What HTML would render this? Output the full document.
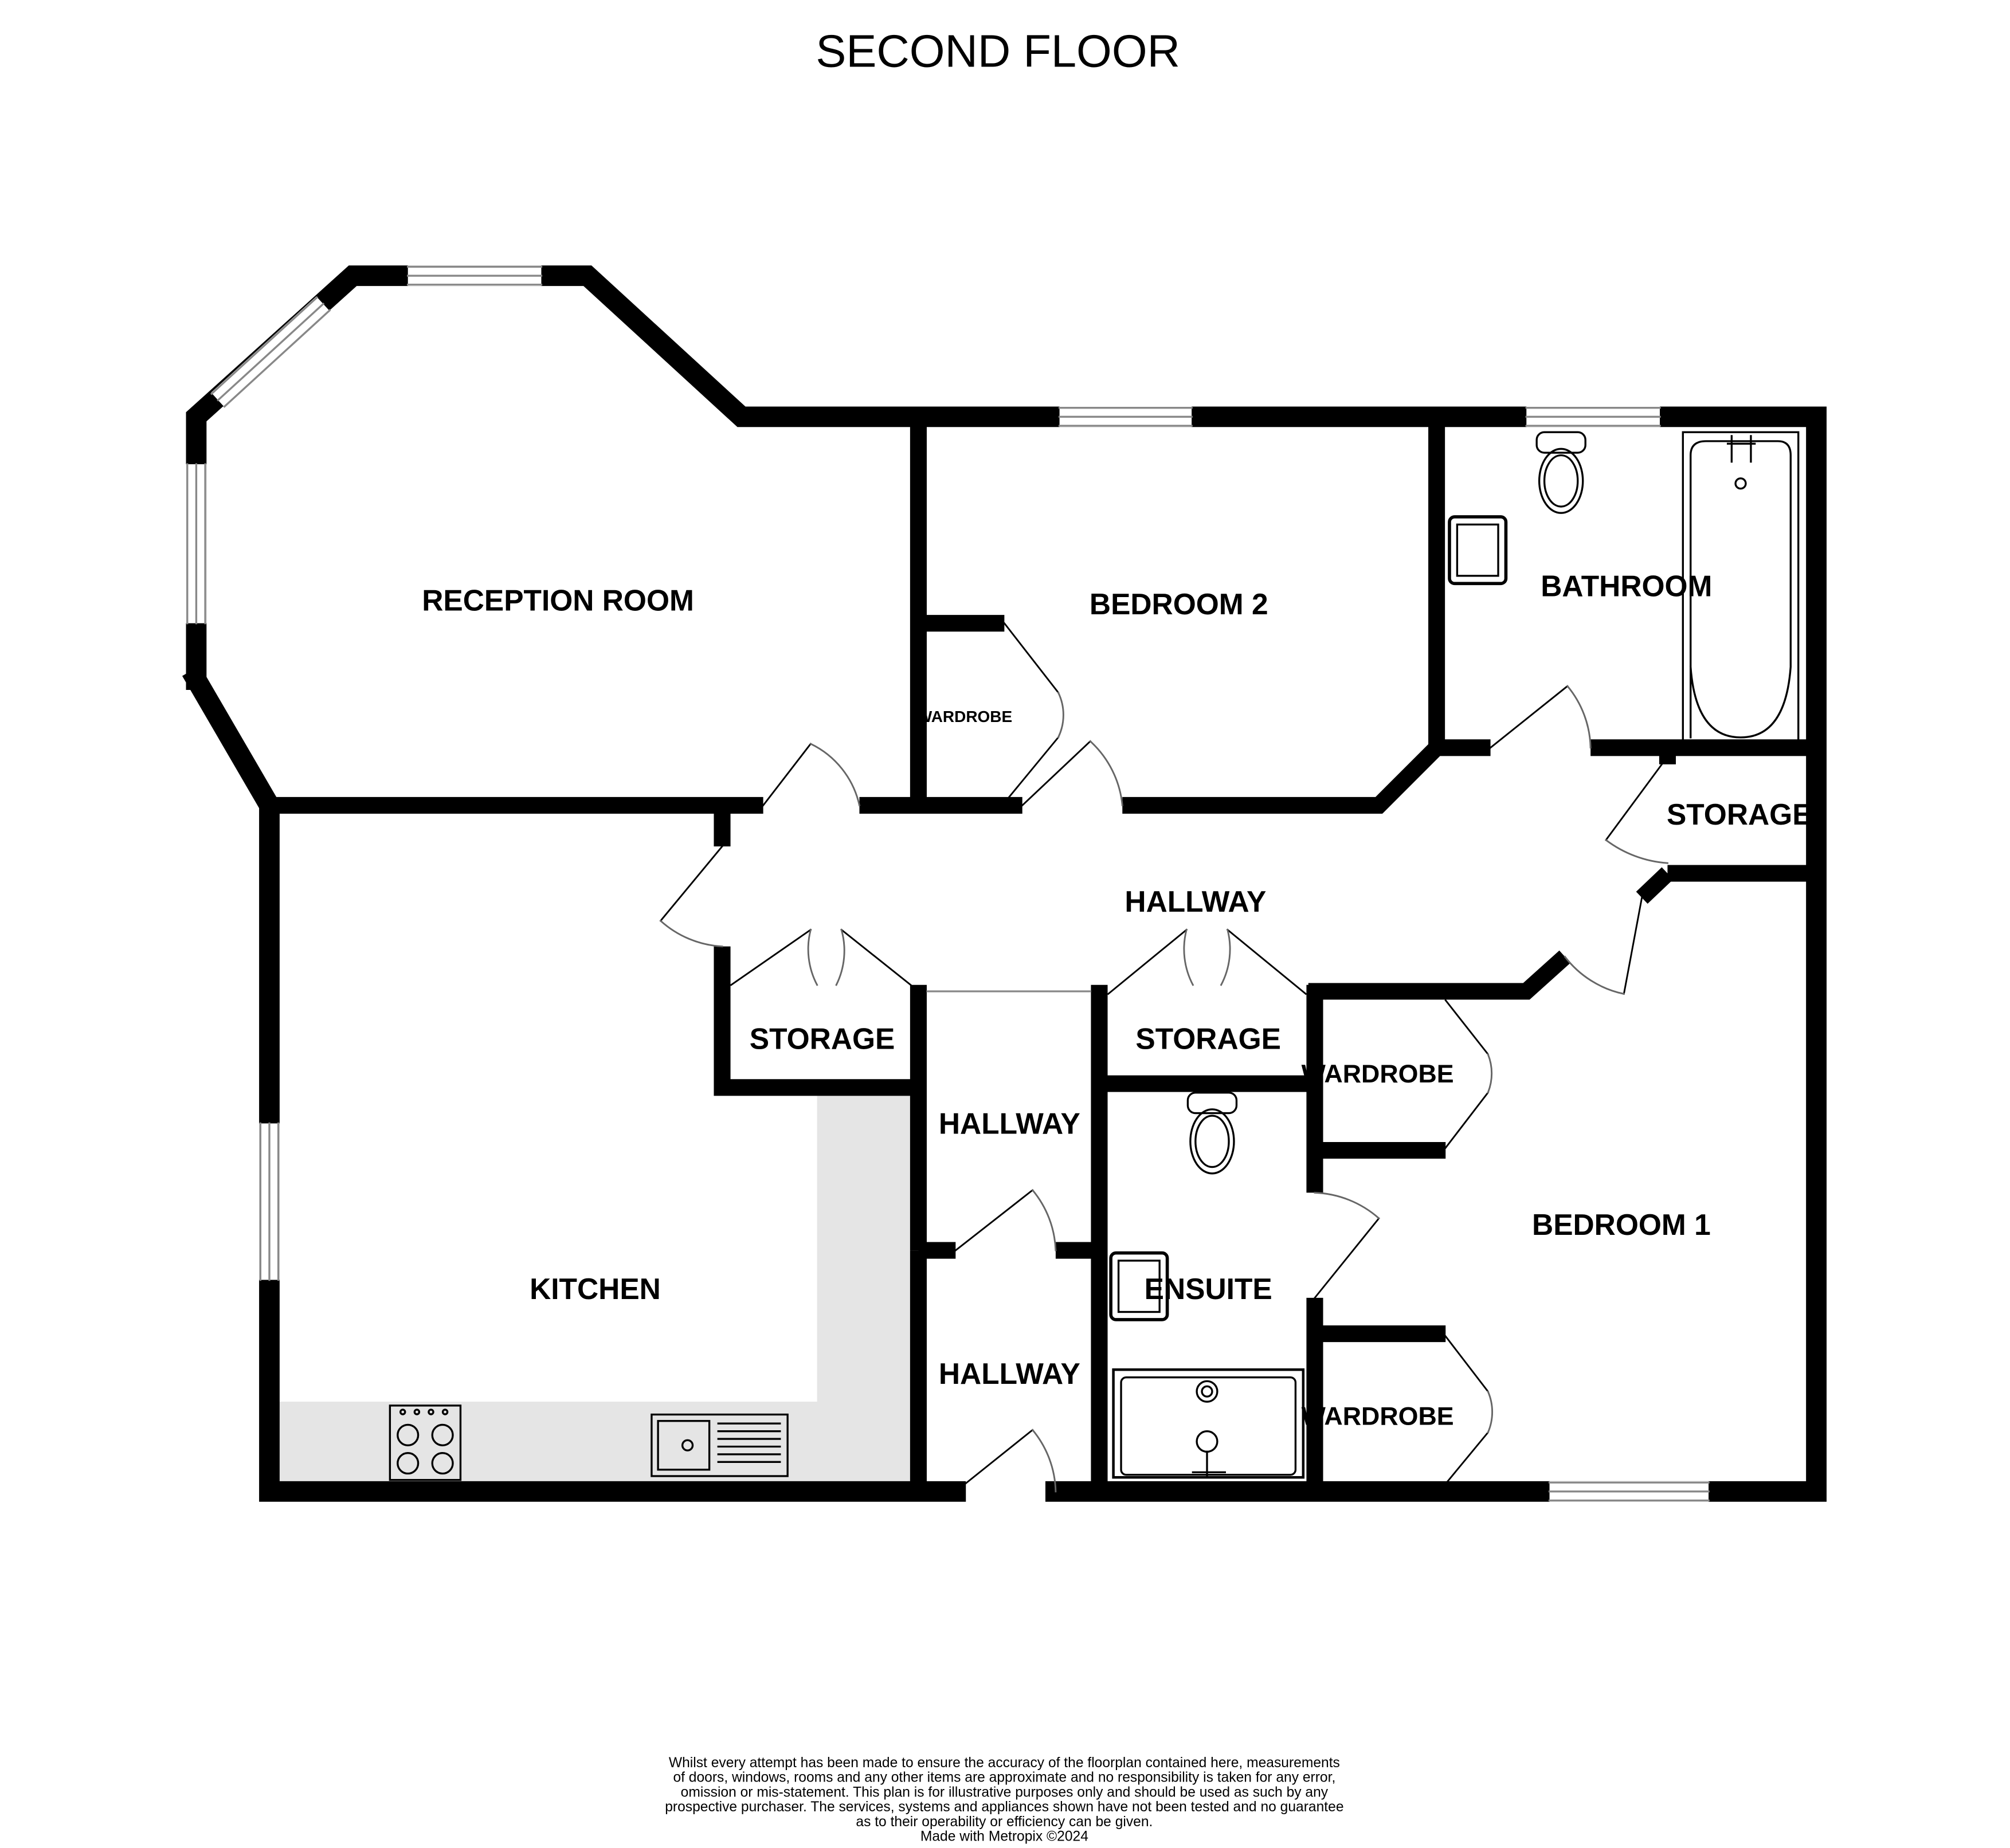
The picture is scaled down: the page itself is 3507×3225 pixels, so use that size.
<!DOCTYPE html>
<html><head><meta charset="utf-8"><style>
html,body{margin:0;padding:0;background:#fff}
svg{display:block}
text{font-family:"Liberation Sans",sans-serif}
.b{font-weight:bold;font-size:23px;text-anchor:middle}
</style></head><body>
<svg width="3507" height="3225" viewBox="0 0 1567 1441" xmlns="http://www.w3.org/2000/svg">
<rect width="1567" height="1441" fill="#fff"/>
<path d="M217 1093 H637 V852 H712 V1156 H217 Z" fill="#e5e5e5"/>
<g stroke="#000" fill="none" stroke-linecap="square" stroke-linejoin="miter">
<g stroke-width="16">
<path d="M153 530 V325 L275 215 H458 L578 325 H1416 V1163 H823"/>
<path d="M745 1163 H210 V628 L153 530"/>
</g>
<g stroke-width="13" stroke-linecap="butt">
<path d="M210 628 H595"/>
<path d="M670 628 H797"/>
<path d="M875 628 H1075 L1120 583 V325"/>
<path d="M716 325 V628"/>
<path d="M716 486 H783"/>
<path d="M1120 583 H1162"/>
<path d="M1240 583 H1416"/>
<path d="M1300 583 V596"/>
<path d="M1300 681 H1416"/>
<path d="M1020 773 H1190 L1220 746"/>
<path d="M1300 681 L1280 700"/>
<path d="M563 628 V660"/>
<path d="M563 738 V848 H716"/>
<path d="M716 768 V975"/>
<path d="M716 975 H745"/>
<path d="M823 975 H857"/>
<path d="M716 975 V1163"/>
<path d="M857 768 V1163"/>
<path d="M857 845 H1025"/>
<path d="M1025 768 V930"/>
<path d="M1025 1012 V1163"/>
<path d="M1025 897 H1127"/>
<path d="M1025 1040 H1127"/>
</g>
<g stroke-width="16" stroke="#fff" stroke-linecap="butt">
<path d="M318 215 H422"/><path d="M826 325 H929"/><path d="M1190 325 H1294"/>
<path d="M1208 1163 H1332"/><path d="M153 362 V486"/><path d="M210 876 V998"/>
<path d="M170 312 L252 237"/>
</g>
<g stroke="#888" stroke-width="1.5">
<path d="M318 208 H422 M318 215 H422 M318 222 H422"/>
<path d="M826 318 H929 M826 325 H929 M826 332 H929"/>
<path d="M1190 318 H1294 M1190 325 H1294 M1190 332 H1294"/>
<path d="M1208 1156 H1332 M1208 1163 H1332 M1208 1170 H1332"/>
<path d="M146 362 V486 M153 362 V486 M160 362 V486"/>
<path d="M203 876 V998 M210 876 V998 M217 876 V998"/>
<path d="M165 307 L247 232 M170 312 L252 237 M175 317 L257 242"/>
<path d="M723 773 H850"/>
</g>
<g stroke-width="1.3" stroke="#000">
<path d="M595 628 L632 580"/><path d="M670 628 A70 70 0 0 0 632 580" stroke="#666"/>
<path d="M797 628 L850 578"/><path d="M875 628 A78 78 0 0 0 850 578" stroke="#666"/>
<path d="M783 486 L825 540 M783 626 L825 575"/><path d="M825 540 A40 40 0 0 1 825 575" stroke="#666"/>
<path d="M1162 583 L1222 535"/><path d="M1240 583 A78 78 0 0 0 1222 535" stroke="#666"/>
<path d="M1300 590 L1252 655"/><path d="M1252 655 A90 90 0 0 0 1300 673" stroke="#666"/>
<path d="M1280 700 L1266 775"/><path d="M1266 775 A78 78 0 0 1 1220 746" stroke="#666"/>
<path d="M563 660 L515 718"/><path d="M515 718 A78 78 0 0 0 563 738" stroke="#666"/>
<path d="M570 768 L632 725 M710 768 L656 725"/><path d="M632 725 A60 60 0 0 0 637 768 M656 725 A60 60 0 0 1 652 768" stroke="#666"/>
<path d="M864 775 L925 725 M1018 775 L957 725"/><path d="M925 725 A60 60 0 0 0 930 768 M957 725 A60 60 0 0 1 952 768" stroke="#666"/>
<path d="M745 975 L805 928"/><path d="M823 975 A78 78 0 0 0 805 928" stroke="#666"/>
<path d="M745 1163 L805 1115"/><path d="M823 1163 A78 78 0 0 0 805 1115" stroke="#666"/>
<path d="M1025 1012 L1075 950"/><path d="M1075 950 A80 80 0 0 0 1025 930" stroke="#666"/>
<path d="M1127 780 L1160 822 M1127 895 L1160 852"/><path d="M1160 822 A40 40 0 0 1 1160 852" stroke="#666"/>
<path d="M1127 1042 L1160 1085 M1127 1157 L1160 1117"/><path d="M1160 1085 A40 40 0 0 1 1160 1117" stroke="#666"/>
</g>
<g stroke-width="1.5">
<rect x="1312" y="337" width="90" height="242"/>
<path d="M1318 575 V355 Q1318 344 1330 344 H1386 Q1396 344 1396 355 V520 Q1392 575 1357 575 Q1322 575 1318 520"/>
<circle cx="1357" cy="377" r="4"/><path d="M1347 346 H1368 M1350 340 V360 M1365 340 V360"/>
<rect x="1198" y="337" width="38" height="16" rx="6"/><ellipse cx="1217" cy="375" rx="17" ry="25"/><ellipse cx="1217" cy="375" rx="13" ry="20"/>
<rect x="1130" y="403" width="44" height="52" rx="4" stroke-width="2.5"/><rect x="1136" y="409" width="32" height="40"/>
<rect x="926" y="852" width="38" height="16" rx="6"/><ellipse cx="945" cy="890" rx="17" ry="25"/><ellipse cx="945" cy="890" rx="13" ry="20"/>
<rect x="866" y="977" width="44" height="52" rx="4" stroke-width="2.5"/><rect x="872" y="983" width="32" height="40"/>
<rect x="868" y="1068" width="148" height="84" stroke-width="2"/><rect x="874" y="1074" width="136" height="76" rx="4"/>
<circle cx="941" cy="1085" r="8"/><circle cx="941" cy="1085" r="4"/><circle cx="941" cy="1124" r="8"/><path d="M941 1132 V1152 M930 1148 H955"/>
<rect x="304" y="1096" width="55" height="58"/><circle cx="318" cy="1119" r="8"/><circle cx="345" cy="1119" r="8"/><circle cx="318" cy="1141" r="8"/><circle cx="345" cy="1141" r="8"/>
<circle cx="314" cy="1101" r="1.8"/><circle cx="325" cy="1101" r="1.8"/><circle cx="336" cy="1101" r="1.8"/><circle cx="347" cy="1101" r="1.8"/>
<rect x="508" y="1103" width="106" height="48"/><rect x="513" y="1108" width="40" height="38"/><circle cx="536" cy="1127" r="4"/>
<path d="M560 1110 H608 M560 1116 H608 M560 1122 H608 M560 1128 H608 M560 1134 H608 M560 1140 H608"/>
</g>
</g>
<text x="778" y="52" font-size="35.5" text-anchor="middle">SECOND FLOOR</text>
<text class="b" x="435" y="476">RECEPTION ROOM</text>
<text class="b" x="919" y="479">BEDROOM 2</text>
<text class="b" x="1268" y="465">BATHROOM</text>
<text class="b" x="1356" y="643">STORAGE</text>
<text class="b" x="932" y="711">HALLWAY</text>
<text class="b" x="641" y="818">STORAGE</text>
<text class="b" x="942" y="818">STORAGE</text>
<text class="b" x="787" y="884">HALLWAY</text>
<text class="b" x="787" y="1079">HALLWAY</text>
<text class="b" x="464" y="1013">KITCHEN</text>
<text class="b" x="942" y="1013">ENSUITE</text>
<text class="b" x="1264" y="963">BEDROOM 1</text>
<text class="b" x="1074" y="844" style="font-size:20px">WARDROBE</text>
<text class="b" x="1074" y="1111" style="font-size:20px">WARDROBE</text>
<text class="b" x="752" y="563" style="font-size:12.5px">WARDROBE</text>
<g font-size="11" text-anchor="middle">
<text x="783" y="1378">Whilst every attempt has been made to ensure the accuracy of the floorplan contained here, measurements</text>
<text x="783" y="1389.5">of doors, windows, rooms and any other items are approximate and no responsibility is taken for any error,</text>
<text x="783" y="1401">omission or mis-statement. This plan is for illustrative purposes only and should be used as such by any</text>
<text x="783" y="1412.5">prospective purchaser. The services, systems and appliances shown have not been tested and no guarantee</text>
<text x="783" y="1424">as to their operability or efficiency can be given.</text>
<text x="783" y="1435.5">Made with Metropix ©2024</text>
</g>
</svg>
</body></html>
